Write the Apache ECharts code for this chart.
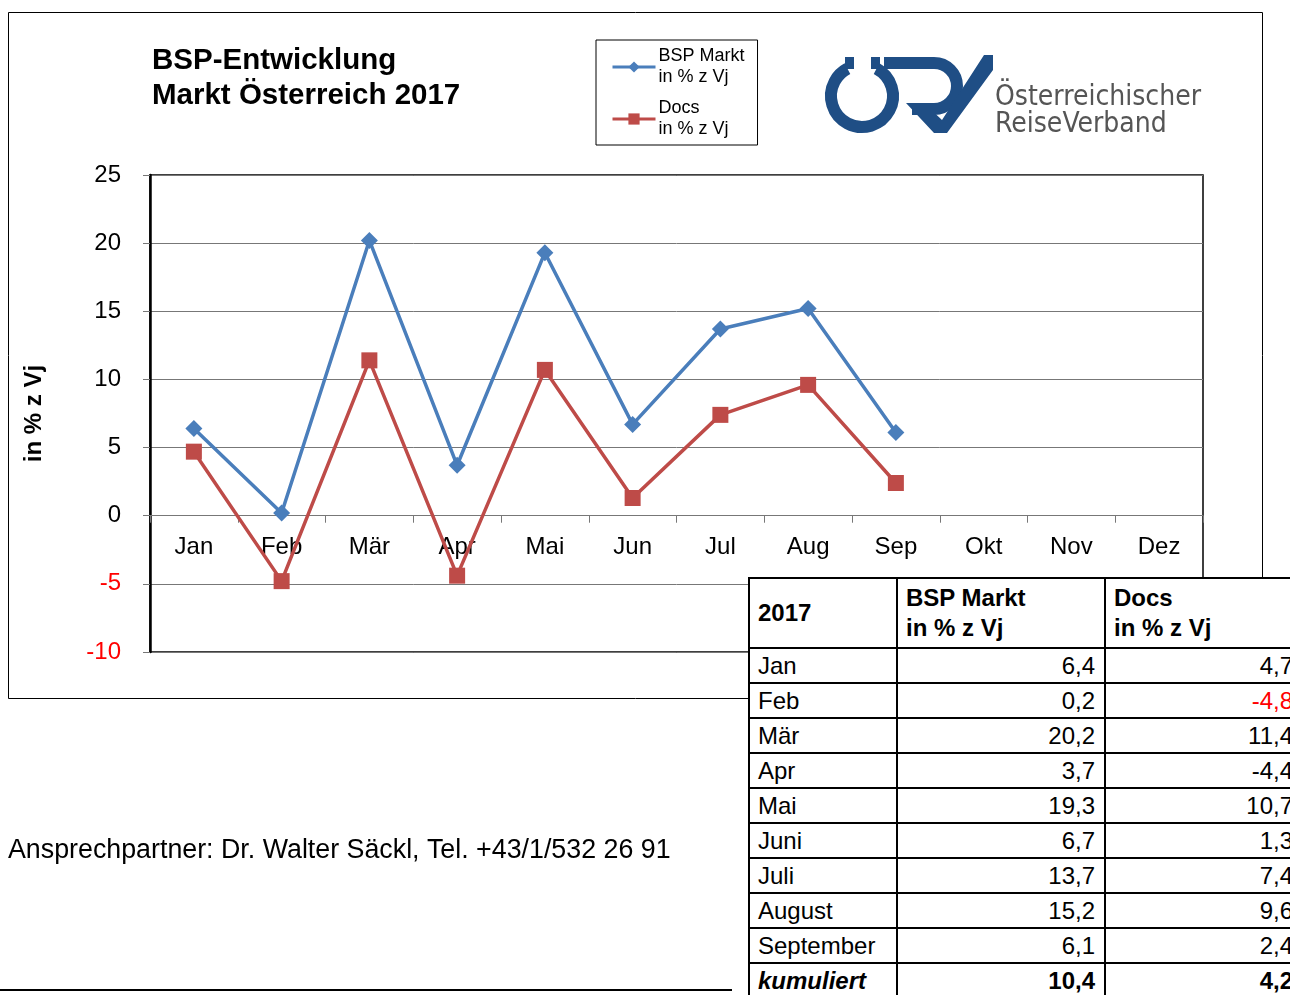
<!DOCTYPE html>
<html>
<head>
<meta charset="utf-8">
<script src="https://cdn.jsdelivr.net/npm/echarts@6/dist/echarts.min.js"></script>
<style>
    body { margin: 0; width: 1290px; height: 995px; overflow: hidden; background: #fff; position: relative; }
    #chart { position: absolute; left: 0; top: 0; width: 1290px; height: 995px; }
    #wrap { position: absolute; left: 748px; top: 577px; width: 560px; z-index: 2; }
    #tbl {
        width: 554px; border-collapse: collapse; background: #fff;
        font-family: 'Liberation Sans', Arial, sans-serif; font-size: 24px; color: #000;
        table-layout: fixed;
    }
    #tbl td { border: 2px solid #000; padding: 0 9px 0 8px; height: 33px; line-height: 30px; white-space: nowrap; overflow: hidden; }
    #tbl tr.head td { height: 68px; font-weight: bold; vertical-align: middle; }
    #tbl td.num { text-align: right; }
    #tbl tr.sum td { font-weight: bold; }
    #tbl tr.sum td:first-child { font-style: italic; }
</style>
</head>
<body>
<div id="chart"></div>
<div id="wrap"><table id="tbl"></table></div>
<script>
// Monate (x-Achse)
const months = ['Jan', 'Feb', 'Mär', 'Apr', 'Mai', 'Jun', 'Jul', 'Aug', 'Sep', 'Okt', 'Nov', 'Dez']
// Veränderung in % zum Vorjahr
const bspMarkt = [6.4, 0.2, 20.2, 3.7, 19.3, 6.7, 13.7, 15.2, 6.1]
const docs = [4.7, -4.8, 11.4, -4.4, 10.7, 1.3, 7.4, 9.6, 2.4]
// Tabelle
const tableMonths = ['Jan', 'Feb', 'Mär', 'Apr', 'Mai', 'Juni', 'Juli', 'August', 'September']
const docsRed = [1]   // Zeilen, in denen Docs rot geschrieben ist
const kumBsp = 10.4
const kumDocs = 4.2

const fmt = v => v.toFixed(1).replace('.', ',')

// Tabelle bauen
let html = '<colgroup><col style="width:148px"><col style="width:208px"><col style="width:198px"></colgroup>'
html += '<tr class="head"><td>2017</td><td>BSP Markt<br>in % z Vj</td><td>Docs<br>in % z Vj</td></tr>'
tableMonths.forEach((m, i) => {
    let red = docsRed.includes(i) ? ' style="color:#ff0000"' : ''
    html += `<tr><td>${m}</td><td class="num">${fmt(bspMarkt[i])}</td><td class="num"${red}>${fmt(docs[i])}</td></tr>`
})
html += `<tr class="sum"><td>kumuliert</td><td class="num">${fmt(kumBsp)}</td><td class="num">${fmt(kumDocs)}</td></tr>`
document.getElementById('tbl').innerHTML = html

const font = "'Liberation Sans', Arial, sans-serif"
const logoBlue = '#1F4E85'
const yMin = -10, yMax = 25
const gridTop = 175, gridHeight = 477
// x-Achse sitzt bei 0 (wie in Excel)
const xOffset = -(0 - yMin) / (yMax - yMin) * gridHeight

const chart = echarts.init(document.getElementById('chart'))

const option = {
    animation: false,
    textStyle: { fontFamily: font },
    title: {
        text: 'BSP-Entwicklung\nMarkt Österreich 2017',
        left: 147, top: 38,
        textStyle: { fontSize: 29.5, fontWeight: 'bold', color: '#000', lineHeight: 35, fontFamily: font }
    },
    legend: {
        left: 596, top: 40,
        orient: 'vertical',
        padding: [6, 13, 5, 15],
        itemGap: 10,
        itemWidth: 43, itemHeight: 14,
        borderColor: '#000', borderWidth: 1,
        lineStyle: { width: 3 },
        textStyle: { fontSize: 18, color: '#000', lineHeight: 21, fontFamily: font, padding: [0, 0, 0, -2] }
    },
    grid: {
        left: 150, top: gridTop, width: 1053, height: gridHeight,
        show: true, borderColor: '#000', borderWidth: 1.5
    },
    xAxis: {
        type: 'category',
        data: months,
        boundaryGap: true,
        offset: xOffset,
        axisLine: { onZero: false, lineStyle: { color: '#777', width: 1 } },
        axisTick: { show: true, alignWithLabel: false, interval: 0, length: 7, lineStyle: { color: '#777' } },
        axisLabel: { interval: 0, fontSize: 24, color: '#000', margin: 20 },
        splitLine: { show: false }
    },
    yAxis: {
        type: 'value',
        min: yMin, max: yMax, interval: 5,
        name: 'in % z Vj',
        nameLocation: 'middle',
        nameGap: 104,
        nameTextStyle: { fontSize: 24, fontWeight: 'bold', color: '#000' },
        axisLine: { show: true, onZero: false, lineStyle: { color: '#000', width: 2.5 } },
        axisTick: { show: true, length: 7, lineStyle: { color: '#777' } },
        axisLabel: {
            fontSize: 24, margin: 29,
            color: v => (Number(v) < 0 ? '#ff0000' : '#000')
        },
        splitLine: { lineStyle: { color: '#777', width: 1 } }
    },
    series: [
        {
            name: 'BSP Markt\nin % z Vj',
            type: 'line',
            data: bspMarkt,
            symbol: 'diamond', symbolSize: 17,
            lineStyle: { color: '#4A7EBB', width: 3.5 },
            itemStyle: { color: '#4A7EBB' }
        },
        {
            name: 'Docs\nin % z Vj',
            type: 'line',
            data: docs,
            symbol: 'rect', symbolSize: 16,
            lineStyle: { color: '#BE4B48', width: 3.5 },
            itemStyle: { color: '#BE4B48' }
        }
    ],
    graphic: [
        // äußerer Rahmen
        { type: 'rect', z: -1, shape: { x: 8.5, y: 12.5, width: 1254, height: 686 }, style: { fill: 'none', stroke: '#000', lineWidth: 1 } },
        // Logo ÖRV
        {
            type: 'arc',
            shape: { cx: 862, cy: 96, r: 31, startAngle: -62 * Math.PI / 180, endAngle: 242 * Math.PI / 180, clockwise: true },
            style: { stroke: logoBlue, lineWidth: 12, fill: 'none' }
        },
        { type: 'rect', shape: { x: 845, y: 57, width: 9, height: 12 }, style: { fill: logoBlue } },
        { type: 'rect', shape: { x: 871, y: 57, width: 9, height: 12 }, style: { fill: logoBlue } },
        { type: 'polyline', shape: { points: [[884, 63], [934, 63]] }, style: { stroke: logoBlue, lineWidth: 12 } },
        {
            type: 'arc',
            shape: { cx: 934, cy: 86, r: 23, startAngle: -Math.PI / 2, endAngle: Math.PI / 2, clockwise: true },
            style: { stroke: logoBlue, lineWidth: 12, fill: 'none' }
        },
        { type: 'polyline', shape: { points: [[934, 109], [912, 109]] }, style: { stroke: logoBlue, lineWidth: 12 } },
        {
            type: 'polygon',
            shape: { points: [[906, 103], [924, 103], [942, 120], [984, 55], [993, 55], [993, 70], [947, 133], [934, 133]] },
            style: { fill: logoBlue }
        },
        {
            type: 'text', left: 995, top: 84,
            style: { text: 'Österreichischer\nReiseVerband', font: "28px 'DejaVu Sans Condensed', 'DejaVu Sans', sans-serif", fill: '#555', lineHeight: 27 }
        },
        // Kontakt
        {
            type: 'text', left: 8, top: 837,
            style: { text: 'Ansprechpartner: Dr. Walter Säckl, Tel. +43/1/532 26 91', font: "26.8px 'Liberation Sans', Arial, sans-serif", fill: '#000' }
        },
        { type: 'line', shape: { x1: 0, y1: 990, x2: 732, y2: 990 }, style: { stroke: '#000', lineWidth: 2 } }
    ]
}

chart.setOption(option)
</script>
</body>
</html>
